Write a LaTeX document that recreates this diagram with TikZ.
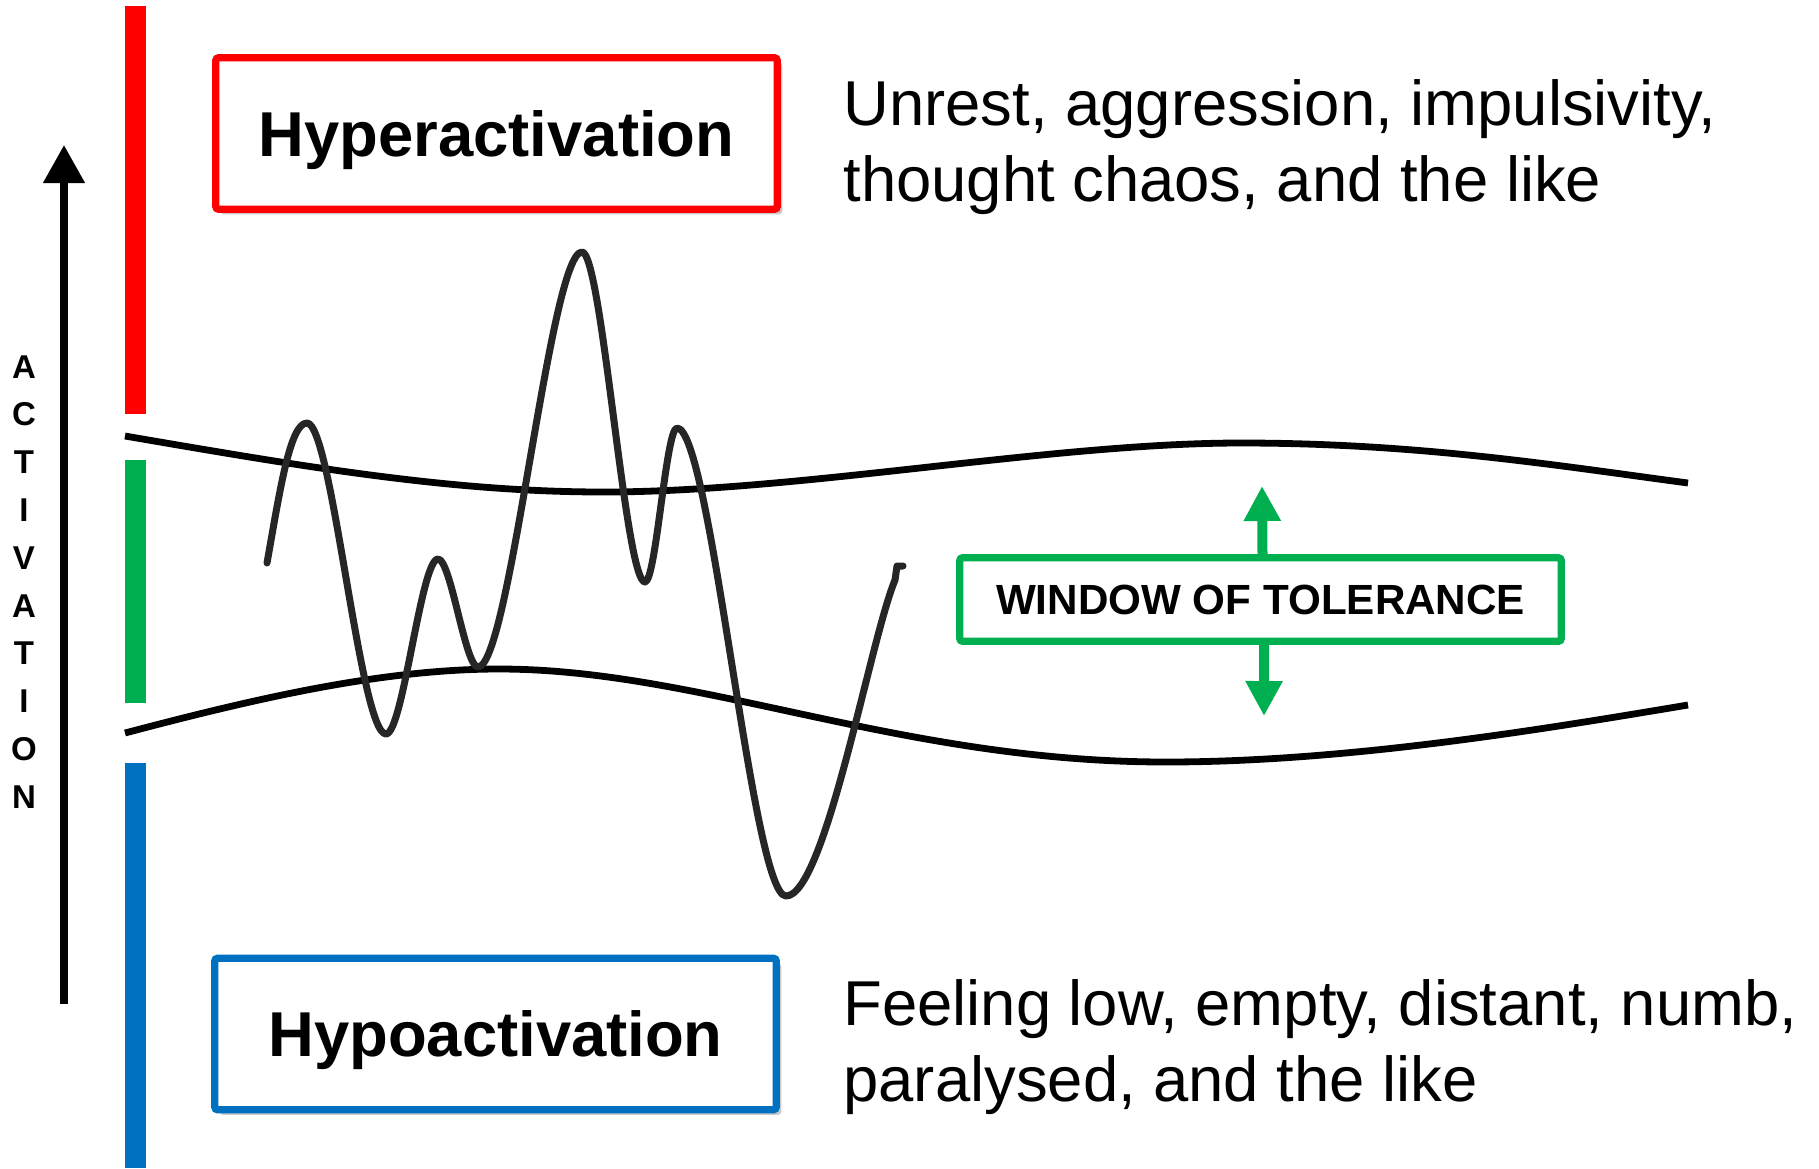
\documentclass[tikz,border=0pt]{standalone}
\usepackage{fontspec}
\setmainfont{Liberation Sans}
\usetikzlibrary{arrows.meta,shadows}
\definecolor{hred}{HTML}{FF0000}
\definecolor{hgreen}{HTML}{00B050}
\definecolor{hblue}{HTML}{0070C0}
\definecolor{wavec}{HTML}{262626}
\tikzset{
  statebox/.style={draw, line width=3.7pt, fill=white, rounded corners=1.5pt,
    minimum width=280.75pt, minimum height=75.75pt, inner sep=0pt,
    font=\bfseries\fontsize{31.7}{38}\selectfont, text height=22.7pt, text depth=0pt,
    drop shadow={shadow xshift=2.5pt, shadow yshift=-2.5pt, opacity=0.35, fill=black!60}},
  winbox/.style={draw=hgreen, line width=3.7pt, fill=white, rounded corners=1.5pt,
    minimum width=300.75pt, minimum height=41.75pt, inner sep=0pt,
    font=\bfseries\fontsize{21.1}{25}\selectfont, text height=15.1pt, text depth=0pt},
  desc/.style={anchor=base west, inner sep=0pt, font=\fontsize{31.7}{38}\selectfont},
  actletter/.style={anchor=base, inner sep=0pt, font=\bfseries\fontsize{16.5}{20}\selectfont},
  bound/.style={line width=3.4pt, black},
  wave/.style={line width=3.5pt, wavec, line cap=round, line join=round},
  garrow/.style={line width=5pt, hgreen, -{Triangle[width=17.5pt,length=17.5pt]}},
}
\begin{document}
\begin{tikzpicture}[x=0.5pt,y=-0.5pt]
\useasboundingbox[fill=white] (0,0) rectangle (1819,1168);

% colored bars
\fill[hred] (125,6) rectangle (146,414);
\fill[hgreen] (125,460) rectangle (146,703);
\fill[hblue] (125,763) rectangle (146,1168);

% activation axis
\coordinate (axbot) at (64,1004);
\coordinate (axtop) at (64,145);
\draw[line width=3.8pt, -{Triangle[width=20pt,length=19pt]}] (axbot) -- (axtop);
\foreach \l [count=\i from 0] in {A,C,T,I,V,A,T,I,O,N} {
  \node[actletter, name=act\i] at (24,378+47.8*\i) {\l};
}

% tolerance boundaries
\draw[bound] (125,436) .. controls (300,466) and (450,492) .. (603,492)
  .. controls (800,492) and (1050,443) .. (1241,443)
  .. controls (1420,443) and (1560,466) .. (1688,483);
\draw[bound] (125,733) .. controls (250,700) and (380,669) .. (499,669)
  .. controls (700,669) and (900,762) .. (1166,762)
  .. controls (1350,762) and (1550,728) .. (1688,705);

% activation wave
\draw[wave] (267,563) .. controls (280,490) and (290,423) .. (307,423)
  .. controls (332,423) and (360,734) .. (386,734)
  .. controls (403,734) and (421,559) .. (438,559)
  .. controls (451,559) and (465,667) .. (478,667)
  .. controls (510,667) and (550,252) .. (582,252)
  .. controls (602,252) and (625,582) .. (645,582)
  .. controls (656,582) and (666,428) .. (677,428)
  .. controls (711,428) and (752,896) .. (786,896)
  .. controls (825,896) and (870,640) .. (895,580)
  -- (897,566) -- (903,566);

% boxes
\node[statebox, draw=hred] (hyper) at (496.5,133.5) {Hyperactivation};
\node[statebox, draw=hblue] (hypo) at (495.5,1034) {Hypoactivation};
\node[winbox] (wot) at (1260.5,599.5) {WINDOW OF TOLERANCE};

% green arrows
\coordinate (uptip) at (1262,486);
\coordinate (dntip) at (1264,716);
\draw[garrow] ([xshift=1pt]wot.north) -- (uptip);
\draw[garrow] ([xshift=1.8pt]wot.south) -- (dntip);

% descriptions
\node[desc] (hyd1) at (843,125) {Unrest, aggression, impulsivity,};
\node[desc] (hyd2) at (843,201) {thought chaos, and the like};
\node[desc] (hod1) at (843,1025) {Feeling low, empty, distant, numb,};
\node[desc] (hod2) at (843,1101) {paralysed, and the like};
\end{tikzpicture}
\end{document}
